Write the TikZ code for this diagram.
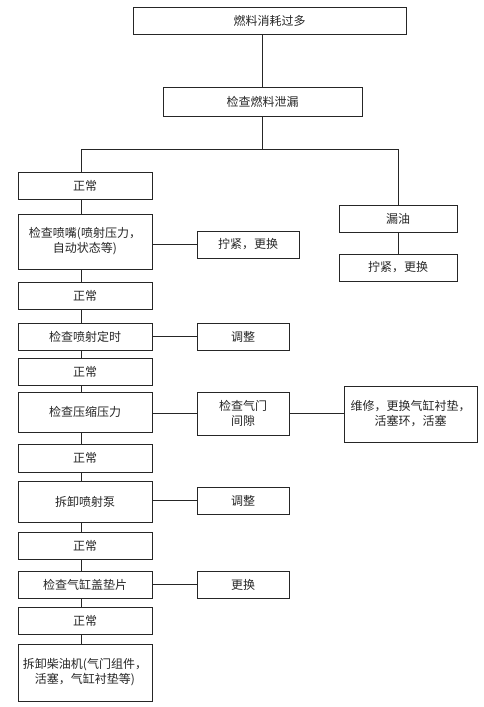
\documentclass[tikz,border=0pt]{standalone}
\usepackage{fontspec}
\setmainfont{Noto Sans CJK SC}
\begin{document}
\begin{tikzpicture}[x=1pt,y=-1pt,
  box/.style={draw=black!85,line width=1pt,inner sep=0pt,outer sep=0pt,align=center,font=\fontsize{12}{15}\selectfont,text=black!85},
  conn/.style={draw=black!85,line width=1pt}]
\useasboundingbox (0,0) rectangle (484,707);
\coordinate (spine) at (81,0);
\coordinate (rspine) at (398,0);
\node[box,minimum width=273pt,minimum height=27pt] (top) at (269.5,20.5) {燃料消耗过多};
\node[box,minimum width=199pt,minimum height=29pt] (leakchk) at (262.5,101.5) {检查燃料泄漏};
\node[box,minimum width=134pt,minimum height=27pt] (n1) at (85,185.5) {正常};
\node[box,minimum width=134pt,minimum height=55pt] (noz) at (85,241.5) {检查喷嘴(喷射压力，\\自动状态等)};
\node[box,minimum width=102pt,minimum height=27pt] (tight1) at (248,244.5) {拧紧，更换};
\node[box,minimum width=118pt,minimum height=27pt] (leak) at (398,218.5) {漏油};
\node[box,minimum width=118pt,minimum height=27pt] (tight2) at (398,267.5) {拧紧，更换};
\node[box,minimum width=134pt,minimum height=27pt] (n2) at (85,295.5) {正常};
\node[box,minimum width=134pt,minimum height=27pt] (timing) at (85,336.5) {检查喷射定时};
\node[box,minimum width=92pt,minimum height=27pt] (adj1) at (243,336.5) {调整};
\node[box,minimum width=134pt,minimum height=27pt] (n3) at (85,371.5) {正常};
\node[box,minimum width=134pt,minimum height=40pt] (comp) at (85,412) {检查压缩压力};
\node[box,minimum width=92pt,minimum height=43pt] (valve) at (243,413.5) {检查气门\\间隙};
\node[box,minimum width=133pt,minimum height=56pt] (repair) at (410.5,414) {维修，更换气缸衬垫，\\活塞环，活塞};
\node[box,minimum width=134pt,minimum height=28pt] (n4) at (85,458) {正常};
\node[box,minimum width=134pt,minimum height=41pt] (pump) at (85,501.5) {拆卸喷射泵};
\node[box,minimum width=92pt,minimum height=27pt] (adj2) at (243,500.5) {调整};
\node[box,minimum width=134pt,minimum height=27pt] (n5) at (85,545.5) {正常};
\node[box,minimum width=134pt,minimum height=27pt] (head) at (85,584.5) {检查气缸盖垫片};
\node[box,minimum width=92pt,minimum height=27pt] (repl) at (243,584.5) {更换};
\node[box,minimum width=134pt,minimum height=27pt] (n6) at (85,620.5) {正常};
\node[box,minimum width=134pt,minimum height=57pt] (eng) at (85,672.5) {拆卸柴油机(气门组件，\\活塞，气缸衬垫等)};
% trunk
\draw[conn] (leakchk.north) -- (leakchk.north |- top.south);
\coordinate (split) at (262.5,149);
\draw[conn] (leakchk.south) -- (split);
\draw[conn] (n1.north -| spine) -- (split -| spine) -- (split -| rspine) -- (leak.north -| rspine);
\draw[conn] (leak.south) -- (tight2.north);
% left spine
\foreach \a/\b in {n1/noz,noz/n2,n2/timing,timing/n3,n3/comp,comp/n4,n4/pump,pump/n5,n5/head,head/n6,n6/eng}
  \draw[conn] (\a.south -| spine) -- (\b.north -| spine);
% side branches
\draw[conn] (noz.east |- tight1.west) -- (tight1.west);
\draw[conn] (timing.east |- adj1.west) -- (adj1.west);
\draw[conn] (comp.east |- valve.west) -- (valve.west);
\draw[conn] (valve.east) -- (valve.east -| repair.west);
\draw[conn] (pump.east |- adj2.west) -- (adj2.west);
\draw[conn] (head.east |- repl.west) -- (repl.west);
\end{tikzpicture}
\end{document}
